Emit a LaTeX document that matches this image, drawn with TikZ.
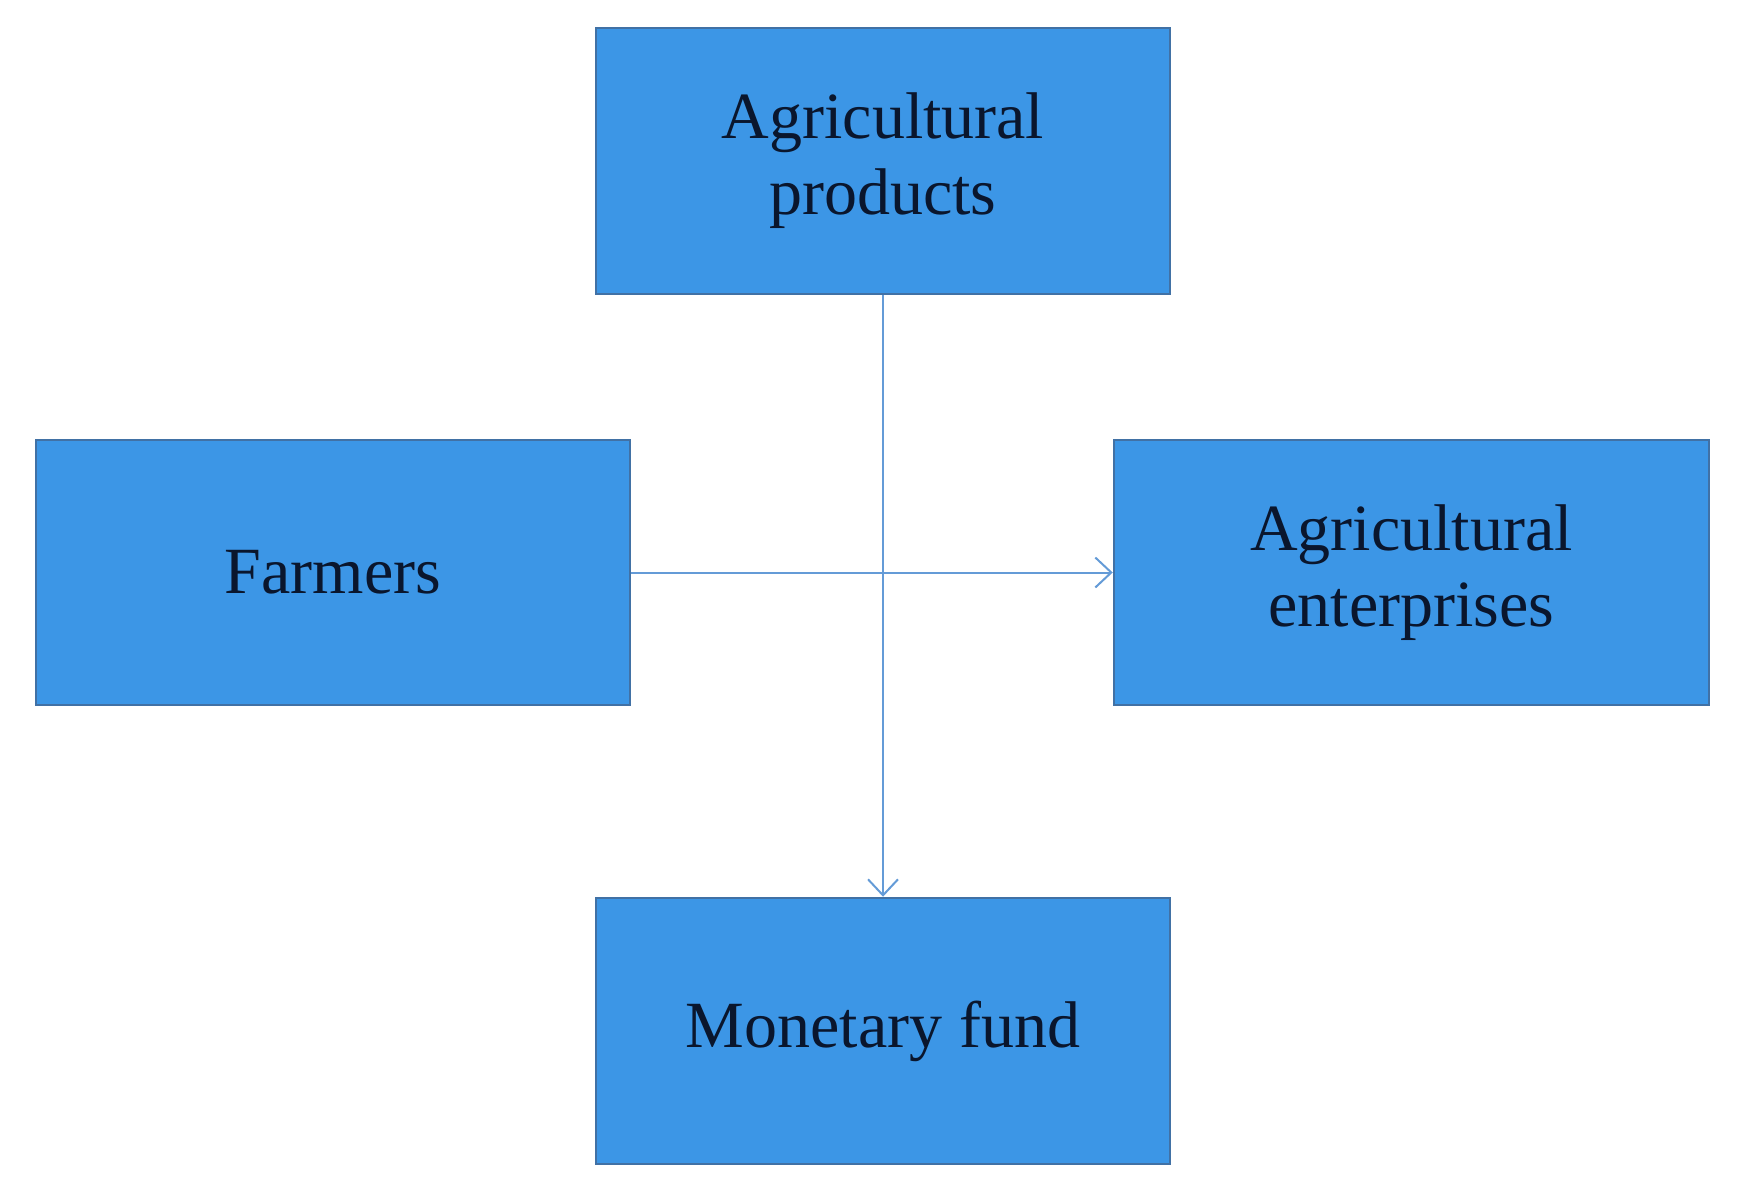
\documentclass[tikz,border=0pt]{standalone}
\usepackage{fontspec}
\setmainfont{Liberation Serif}
\usetikzlibrary{arrows.meta}
\definecolor{boxfill}{RGB}{60,150,230}
\definecolor{boxline}{RGB}{65,113,165}
\definecolor{arrowcol}{RGB}{100,155,215}
\definecolor{txt}{RGB}{10,22,45}
\begin{document}
\begin{tikzpicture}[x=1pt,y=-1pt,
  block/.style={draw=boxline,line width=2.5pt,fill=boxfill,rectangle,inner sep=0pt,
    text=txt,align=center,font=\fontsize{66}{76}\selectfont},
  flow/.style={draw=arrowcol,line width=2pt,-{Straight Barb[length=16pt,width=30pt,line width=2pt]}}]
\useasboundingbox (0,0) rectangle (1746,1196);
\node[block,minimum width=574pt,minimum height=266pt] (prod) at (883,161) {Agricultural\\products};
\node[block,minimum width=594pt,minimum height=265pt] (farm) at (333,572.5) {Farmers};
\node[block,minimum width=595pt,minimum height=265pt] (ent) at (1411.5,572.5) {Agricultural\\enterprises};
\node[block,minimum width=574pt,minimum height=266pt] (fund) at (883,1031) {Monetary fund};
\draw[flow] (prod.south) -- (fund.north);
\draw[flow] (farm.east) -- (ent.west);
\end{tikzpicture}
\end{document}
